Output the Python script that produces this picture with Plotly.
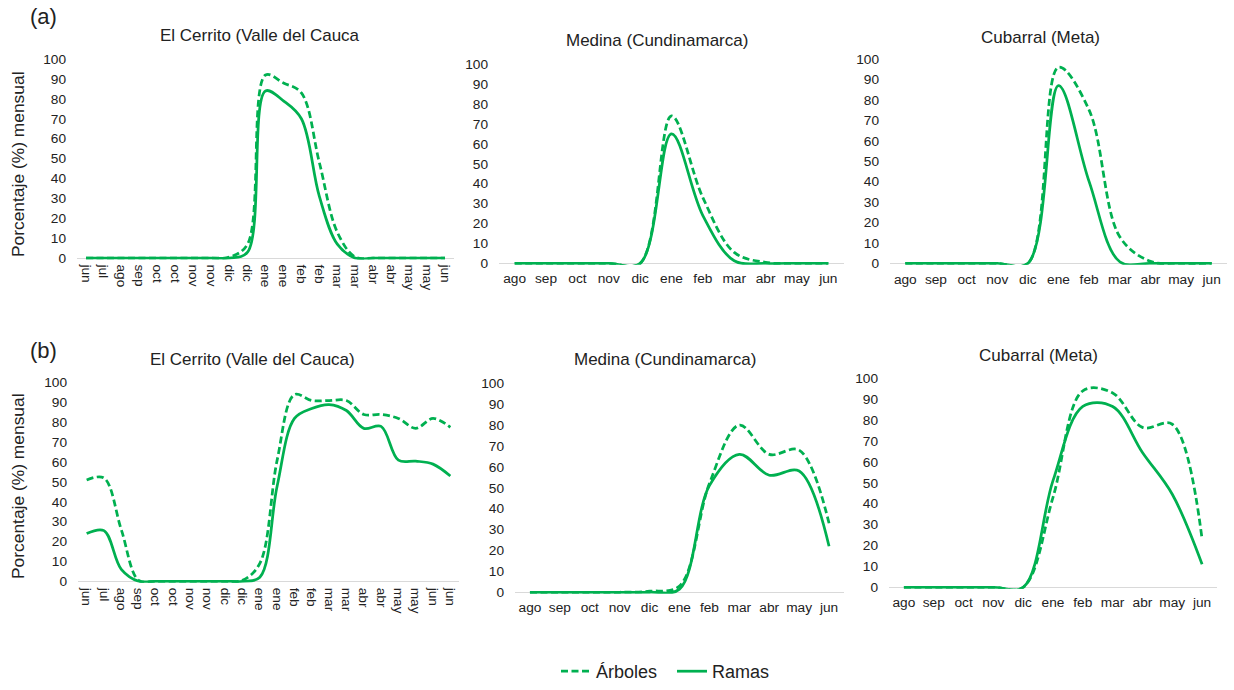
import plotly.graph_objects as go

# ---- data ----------------------------------------------------------------
meses_quincena_a = ["jun", "jul", "ago", "sep", "oct", "oct", "nov", "nov", "dic", "dic",
                    "ene", "ene", "feb", "feb", "mar", "mar", "abr", "abr", "may", "may", "jun"]
meses_quincena_b = ["jun", "jul", "ago", "sep", "oct", "oct", "nov", "nov", "dic", "dic",
                    "ene", "ene", "feb", "feb", "mar", "mar", "abr", "abr", "may", "may", "jun", "jun"]
meses = ["ago", "sep", "oct", "nov", "dic", "ene", "feb", "mar", "abr", "may", "jun"]

# (a)
cerrito_a_arboles = [0, 0, 0, 0, 0, 0, 0, 0, 0.5, 7, 92, 88, 83, 48, 13, 0.5, 0, 0, 0, 0, 0]
cerrito_a_ramas = [0, 0, 0, 0, 0, 0, 0, 0, 0, 3, 84, 79, 70, 31, 7, 0, 0, 0, 0, 0, 0]
medina_a_arboles = [0, 0, 0, 0, 0, 74, 33, 5.5, 0.5, 0, 0]
medina_a_ramas = [0, 0, 0, 0, 0, 65, 24, 1.3, 0, 0, 0]
cubarral_a_arboles = [0, 0, 0, 0, 0, 96, 75, 13, 1, 0, 0]
cubarral_a_ramas = [0, 0, 0, 0, 0, 87, 40, 0.8, 0, 0, 0]

# (b)
cerrito_b_arboles = [51, 52, 26, 0.5, 0, 0, 0, 0, 0, 0.5, 9, 61, 94, 91, 91, 91, 84, 84, 82, 77, 82, 77.5]
cerrito_b_ramas = [24, 25.5, 6, 0, 0, 0, 0, 0, 0, 0, 2, 48, 82, 87, 89, 86, 77, 78, 61, 60.5, 59, 53]
medina_b_arboles = [0, 0, 0, 0, 0.5, 3, 52, 80, 66, 68, 33]
medina_b_ramas = [0, 0, 0, 0, 0, 1.5, 51, 66, 56, 58, 22]
cubarral_b_arboles = [0, 0, 0, 0, 0, 43, 94, 93, 76.5, 78, 23]
cubarral_b_ramas = [0, 0, 0, 0, 0, 51, 86.5, 86.5, 64.5, 44.5, 11]

titulos = ["El Cerrito (Valle del Cauca", "Medina (Cundinamarca)", "Cubarral (Meta)",
           "El Cerrito (Valle del Cauca)", "Medina (Cundinamarca)", "Cubarral (Meta)"]
y_ticks = [0, 10, 20, 30, 40, 50, 60, 70, 80, 90, 100]

# ---- layout constants ----------------------------------------------------
W, H = 1234, 690
VERDE = "#00B050"
TEXTO = "#222222"
FUENTE = "Arial, Liberation Sans, sans-serif"
Y_MIN = -0.7  # a little room so the zero-level line isn't cut in half

# plot-area pixel boxes: (left, right, y at 100, y at 0)
cajas = [
    (77, 454, 53.1, 255.9),
    (499, 844, 58.2, 261.3),
    (890, 1227, 53.1, 261.3),
    (78, 459, 382.9, 585.3),
    (515, 844, 383.5, 596.5),
    (889, 1217, 378.4, 591.4),
]
# title centres (px)
pos_titulos = [(260, 29.4), (657, 34.5), (1040, 30.7), (252, 359.5), (665, 359.5), (1038, 354.7)]
pos_letras = [("(a)", 9.8), ("(b)", 349.6)]
pos_eje_y = [160.1, 488.2]
legend_y = 677.4

paneles = [
    (meses_quincena_a, cerrito_a_arboles, cerrito_a_ramas, 90),
    (meses, medina_a_arboles, medina_a_ramas, 0),
    (meses, cubarral_a_arboles, cubarral_a_ramas, 0),
    (meses_quincena_b, cerrito_b_arboles, cerrito_b_ramas, 90),
    (meses, medina_b_arboles, medina_b_ramas, 0),
    (meses, cubarral_b_arboles, cubarral_b_ramas, 0),
]

fig = go.Figure()
layout = {}
for i, ((etiquetas, arboles, ramas, angulo), caja) in enumerate(zip(paneles, cajas), start=1):
    izq, der, y100, y0 = caja
    ppu = (y0 - y100) / 100.0
    abajo = y0 - Y_MIN * ppu
    sx = "" if i == 1 else str(i)
    xs = list(range(len(etiquetas)))
    fig.add_trace(go.Scatter(
        x=xs, y=arboles, mode="lines", name="Árboles", legendgroup="arboles",
        showlegend=(i == 1), xaxis="x" + sx, yaxis="y" + sx,
        line=dict(color=VERDE, width=2.75, dash="7px,3.5px", shape="spline", smoothing=1.0),
    ))
    fig.add_trace(go.Scatter(
        x=xs, y=ramas, mode="lines", name="Ramas", legendgroup="ramas",
        showlegend=(i == 1), xaxis="x" + sx, yaxis="y" + sx,
        line=dict(color=VERDE, width=2.75, shape="spline", smoothing=1.0),
    ))
    layout["xaxis" + sx] = dict(
        domain=[izq / W, der / W], anchor="y" + sx,
        range=[-0.5, len(etiquetas) - 0.5],
        tickmode="array", tickvals=xs, ticktext=etiquetas, tickangle=angulo,
        showgrid=False, zeroline=False, showline=False, ticks="",
        tickfont=dict(family=FUENTE, size=13.7, color=TEXTO),
        ticklabelstandoff=4, fixedrange=True,
    )
    layout["yaxis" + sx] = dict(
        domain=[1 - abajo / H, 1 - y100 / H], anchor="x" + sx,
        range=[Y_MIN, 100], tickmode="array", tickvals=y_ticks,
        showgrid=False, showline=False, ticks="",
        zeroline=True, zerolinecolor="#D9D9D9", zerolinewidth=1.3,
        tickfont=dict(family=FUENTE, size=13.7, color=TEXTO),
        ticklabelstandoff=10, fixedrange=True,
    )

anotaciones = []
for texto, (cx, cy) in zip(titulos, pos_titulos):
    anotaciones.append(dict(
        text=texto, x=cx / W, y=1 - cy / H, xref="paper", yref="paper",
        xanchor="center", yanchor="middle", showarrow=False,
        font=dict(family=FUENTE, size=17, color=TEXTO),
    ))
for letra, cy in pos_letras:
    anotaciones.append(dict(
        text=letra, x=28 / W, y=1 - cy / H, xref="paper", yref="paper",
        xanchor="left", yanchor="middle", showarrow=False,
        font=dict(family=FUENTE, size=22, color=TEXTO),
    ))
for cy in pos_eje_y:
    anotaciones.append(dict(
        text="Porcentaje (%) mensual", x=18 / W, y=1 - cy / H, xref="paper", yref="paper",
        xanchor="center", yanchor="middle", textangle=-90, showarrow=False,
        font=dict(family=FUENTE, size=17.4, color=TEXTO),
    ))

fig.update_layout(
    **layout,
    width=W, height=H,
    margin=dict(l=0, r=0, t=0, b=0),
    paper_bgcolor="white", plot_bgcolor="white",
    annotations=anotaciones,
    showlegend=True,
    legend=dict(
        orientation="h", x=556 / W, xanchor="left", y=1 - legend_y / H, yanchor="middle",
        font=dict(family=FUENTE, size=18, color=TEXTO),
        bgcolor="rgba(0,0,0,0)", itemwidth=30, tracegroupgap=0,
        entrywidth=71, entrywidthmode="pixels",
    ),
)

fig.write_html("out.html")
